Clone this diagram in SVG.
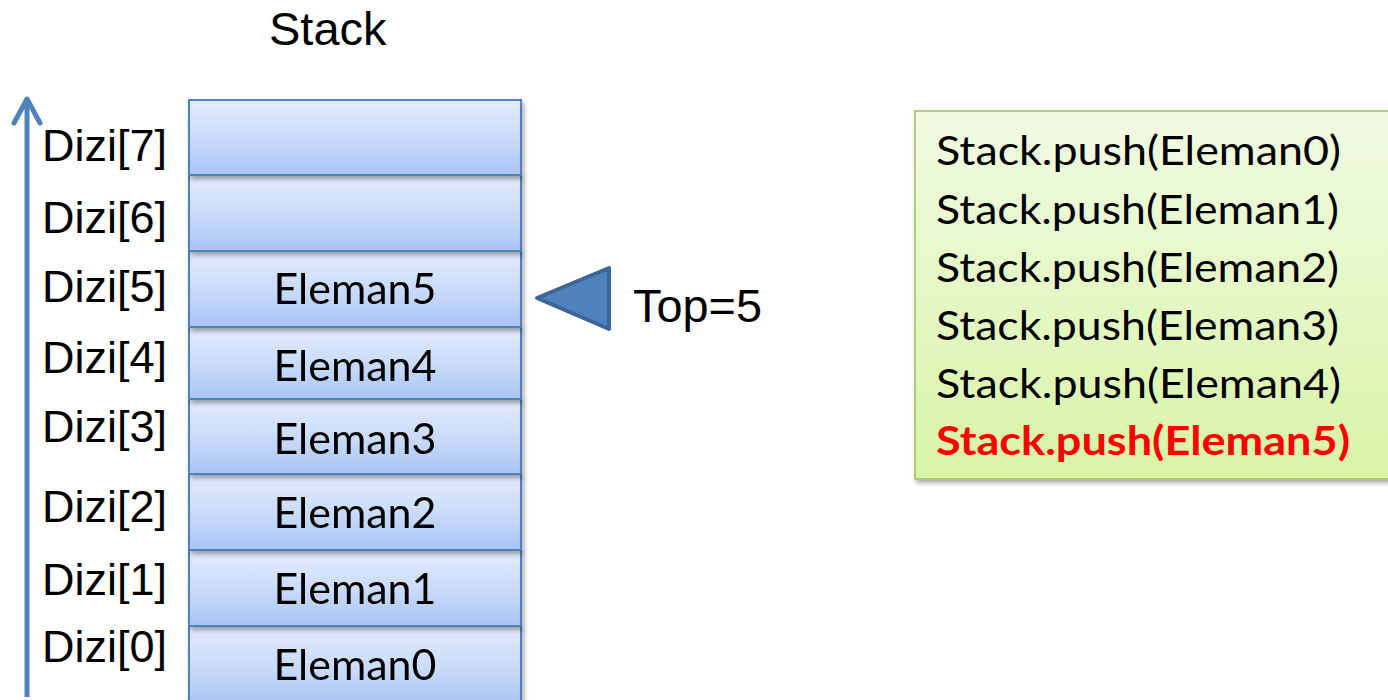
<svg xmlns="http://www.w3.org/2000/svg" width="1388" height="700" viewBox="0 0 1388 700">
  <defs>
    <linearGradient id="cellGrad" x1="0" y1="0" x2="0" y2="1">
      <stop offset="0" stop-color="#E2ECFC"/>
      <stop offset="0.5" stop-color="#CBDCFA"/>
      <stop offset="1" stop-color="#A7C4F6"/>
    </linearGradient>
    <linearGradient id="greenGrad" x1="0" y1="0" x2="0" y2="1">
      <stop offset="0" stop-color="#F1FBE3"/>
      <stop offset="1" stop-color="#D8F4A6"/>
    </linearGradient>
    <filter id="shadow" x="-10%" y="-10%" width="125%" height="130%">
      <feGaussianBlur in="SourceAlpha" stdDeviation="2.5"/>
      <feOffset dx="2" dy="3" result="b"/>
      <feComponentTransfer><feFuncA type="linear" slope="0.35"/></feComponentTransfer>
      <feMerge><feMergeNode/><feMergeNode in="SourceGraphic"/></feMerge>
    </filter>
  </defs>
  <style>
    .cell { fill: url(#cellGrad); stroke: #4F81BD; stroke-width: 2; }
    .cellText { font-family: Lato, "Open Sans", sans-serif; font-size: 42px; fill: #000; text-anchor: middle; }
    .idx { font-family: "Liberation Sans", Arial, sans-serif; font-size: 45px; fill: #000; }
    .title { font-family: "Liberation Sans", Arial, sans-serif; font-size: 47px; fill: #000; }
    .code { font-family: Lato, "Open Sans", sans-serif; font-size: 41px; fill: #000; }
    .codeRed { font-family: Lato, "Open Sans", sans-serif; font-size: 41px; font-weight: bold; fill: #FF0000; }
  </style>
  <rect width="1388" height="700" fill="#FFFFFF"/>

  <text class="title" x="269" y="45">Stack</text>

  <g id="index-labels">
    <text class="idx" x="42" y="161">Dizi[7]</text>
    <text class="idx" x="42" y="233">Dizi[6]</text>
    <text class="idx" x="42" y="302">Dizi[5]</text>
    <text class="idx" x="42" y="373">Dizi[4]</text>
    <text class="idx" x="42" y="442">Dizi[3]</text>
    <text class="idx" x="42" y="522">Dizi[2]</text>
    <text class="idx" x="42" y="595">Dizi[1]</text>
    <text class="idx" x="42" y="662">Dizi[0]</text>
  </g>

  <g id="cell0" filter="url(#shadow)">
    <rect class="cell" x="189" y="626" width="332" height="80"/>
    <text class="cellText" x="355" y="680" textLength="163" lengthAdjust="spacingAndGlyphs">Eleman0</text>
  </g>
  <g id="cell1" filter="url(#shadow)">
    <rect class="cell" x="189" y="550" width="332" height="76"/>
    <text class="cellText" x="355" y="604" textLength="163" lengthAdjust="spacingAndGlyphs">Eleman1</text>
  </g>
  <g id="cell2" filter="url(#shadow)">
    <rect class="cell" x="189" y="474" width="332" height="76"/>
    <text class="cellText" x="355" y="528" textLength="163" lengthAdjust="spacingAndGlyphs">Eleman2</text>
  </g>
  <g id="cell3" filter="url(#shadow)">
    <rect class="cell" x="189" y="399" width="332" height="75"/>
    <text class="cellText" x="355" y="454" textLength="163" lengthAdjust="spacingAndGlyphs">Eleman3</text>
  </g>
  <g id="cell4" filter="url(#shadow)">
    <rect class="cell" x="189" y="327" width="332" height="72"/>
    <text class="cellText" x="355" y="381" textLength="163" lengthAdjust="spacingAndGlyphs">Eleman4</text>
  </g>
  <g id="cell5" filter="url(#shadow)">
    <rect class="cell" x="189" y="251" width="332" height="76"/>
    <text class="cellText" x="355" y="304" textLength="163" lengthAdjust="spacingAndGlyphs">Eleman5</text>
  </g>
  <g id="cell6" filter="url(#shadow)">
    <rect class="cell" x="189" y="175" width="332" height="76"/>
  </g>
  <g id="cell7" filter="url(#shadow)">
    <rect class="cell" x="189" y="100" width="332" height="75"/>
  </g>

  <g id="connectors">
    <line x1="27" y1="697" x2="27" y2="101" stroke="#4F81BD" stroke-width="5"/>
    <polyline points="14,123 27,99 40,123" fill="none" stroke="#4F81BD" stroke-width="5" stroke-linecap="round" stroke-linejoin="round"/>
  </g>

  <g id="top-pointer">
    <polygon points="537,298 609,268 609,329" fill="#4F81BD" stroke="#3D6598" stroke-width="4" stroke-linejoin="round"/>
    <text class="title" x="633" y="322" textLength="129" lengthAdjust="spacingAndGlyphs">Top=5</text>
  </g>

  <g id="code-box">
    <rect x="915" y="111" width="480" height="368" fill="url(#greenGrad)" stroke="#9FC05E" stroke-width="1.5" filter="url(#shadow)"/>
    <text class="code" x="936" y="165" textLength="405" lengthAdjust="spacingAndGlyphs">Stack.push(Eleman0)</text>
    <text class="code" x="936" y="224" textLength="403" lengthAdjust="spacingAndGlyphs">Stack.push(Eleman1)</text>
    <text class="code" x="936" y="282" textLength="403" lengthAdjust="spacingAndGlyphs">Stack.push(Eleman2)</text>
    <text class="code" x="936" y="340" textLength="403" lengthAdjust="spacingAndGlyphs">Stack.push(Eleman3)</text>
    <text class="code" x="936" y="398" textLength="405" lengthAdjust="spacingAndGlyphs">Stack.push(Eleman4)</text>
    <text class="codeRed" x="936" y="455" textLength="414" lengthAdjust="spacingAndGlyphs">Stack.push(Eleman5)</text>
  </g>
</svg>
